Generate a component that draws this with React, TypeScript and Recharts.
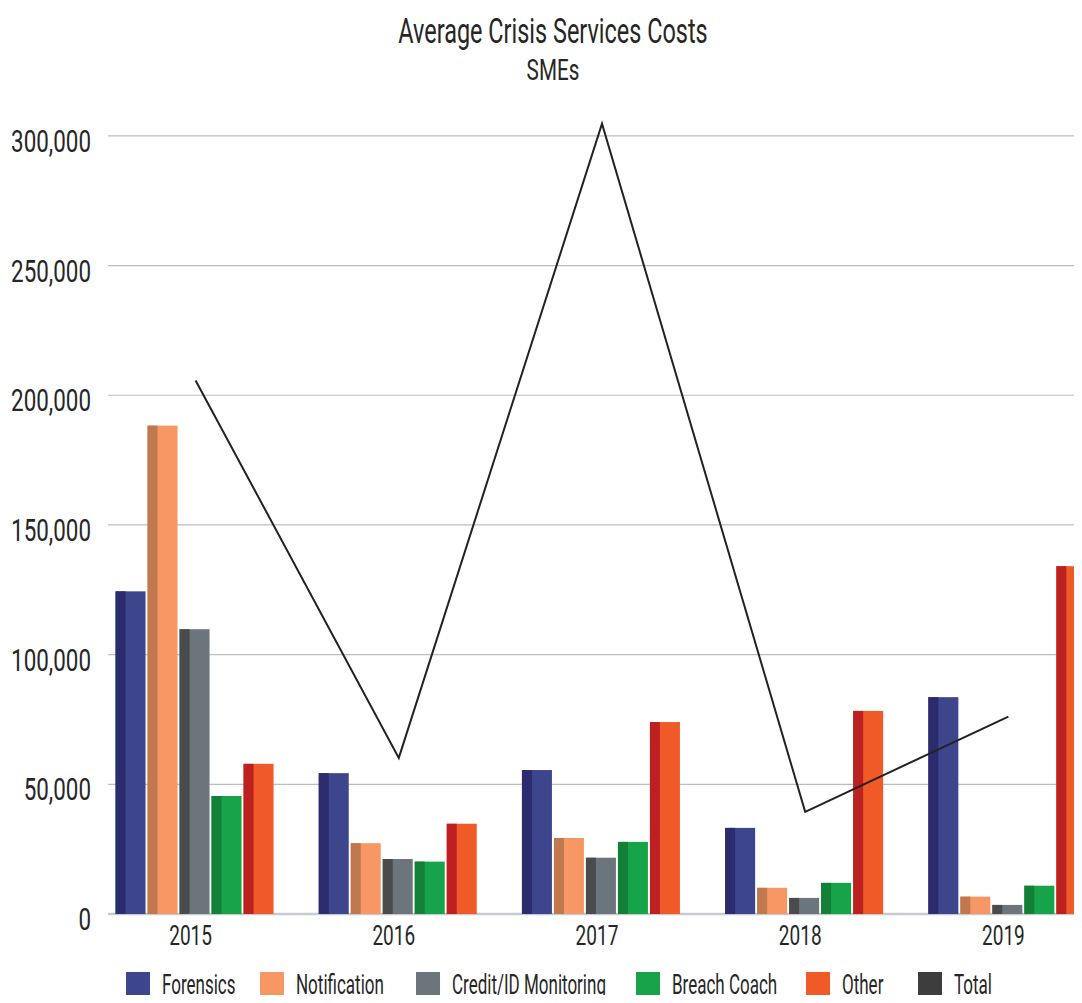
import React from 'react';
import { ComposedChart, Bar, Line, XAxis, YAxis, CartesianGrid } from 'recharts';

const years = ['2015', '2016', '2017', '2018', '2019'];
const forensics = [124400, 54300, 55500, 33200, 83600];
const notification = [188300, 27300, 29300, 10100, 6700];
const creditMonitoring = [109800, 21200, 21700, 6200, 3500];
const breachCoach = [45500, 20200, 27800, 12000, 10900];
const other = [57900, 34800, 74000, 78300, 134100];
const total = [205700, 60200, 304700, 39400, 76100];
const yTicks = [0, 50000, 100000, 150000, 200000, 250000, 300000];

const FONT = "Roboto, 'Noto Sans', sans-serif";
const INK = '#262626';

const SERIES = [
  { key: 'forensics', name: 'Forensics', color: '#3d468c', shade: '#2b2c6e' },
  { key: 'notification', name: 'Notification', color: '#f79864', shade: '#c0784e' },
  { key: 'credit', name: 'Credit/ID Monitoring', color: '#6d757c', shade: '#4a4b4c' },
  { key: 'breach', name: 'Breach Coach', color: '#17a34a', shade: '#138038' },
  { key: 'other', name: 'Other', color: '#f05a28', shade: '#bd2020' },
];

const data = years.map((year, i) => ({
  year,
  forensics: forensics[i],
  notification: notification[i],
  credit: creditMonitoring[i],
  breach: breachCoach[i],
  other: other[i],
  total: total[i],
}));

// narrow text: regular glyphs squeezed horizontally
const Narrow = ({ x, y, size, squeeze = 0.68, anchor = 'start', children }: any) => (
  <text
    transform={`translate(${x},${y}) scale(${squeeze},1)`}
    textAnchor={anchor}
    fontFamily={FONT}
    fontSize={size}
    fill={INK}
  >
    {children}
  </text>
);

// two-tone bar: darker strip on the left third
const shadedBar = (color: string, shade: string) => (props: any) => {
  const { x, y, width, height } = props;
  if (!height || height <= 0) return <g />;
  const strip = Math.round(width / 3);
  return (
    <g>
      <rect x={x} y={y} width={width} height={height} fill={color} />
      <rect x={x} y={y} width={strip} height={height} fill={shade} />
    </g>
  );
};

const GRID_START = 108;

const gridLine = (props: any) => {
  const { y1, y2, x2 } = props;
  if (y1 < 100) return <g key={`g-${y1}`} />;
  const isBase = y1 > 900;
  return (
    <line
      key={`g-${y1}`}
      x1={GRID_START}
      x2={x2}
      y1={y1}
      y2={y2}
      stroke={isBase ? '#c6cbd0' : '#b9bdc3'}
      strokeWidth={isBase ? 2.5 : 1.2}
    />
  );
};

const YTick = (props: any) => {
  const { x, y, payload } = props;
  return (
    <Narrow x={x} y={y + 16} size={32} squeeze={0.7} anchor="end">
      {Number(payload.value).toLocaleString('en-US')}
    </Narrow>
  );
};

const XTick = (props: any) => {
  const { x, y, payload } = props;
  return (
    <Narrow x={x - 5} y={y + 31} size={28} squeeze={0.68} anchor="middle">
      {payload.value}
    </Narrow>
  );
};

const legendItems = [
  ...SERIES.map((s) => ({ name: s.name, color: s.color })),
  { name: 'Total', color: '#3d3d3d' },
];
// left edge of each legend swatch
const legendSlots = [126, 260, 416, 636, 806, 918];

export default function App() {
  return (
    <div style={{ margin: -8, width: 1082, height: 1003, overflow: 'hidden', position: 'relative', background: '#fff' }}>
      <ComposedChart
        width={1110}
        height={1003}
        data={data}
        margin={{ top: 84, right: 0, bottom: 0, left: 0 }}
        barCategoryGap="10.6%"
        barGap={2}
      >
        <CartesianGrid vertical={false} horizontal={gridLine} />
        <XAxis
          dataKey="year"
          axisLine={false}
          tickLine={false}
          tickSize={0}
          tickMargin={0}
          height={89}
          tick={<XTick />}
        />
        <YAxis
          width={94}
          domain={[0, 320000]}
          ticks={yTicks}
          allowDataOverflow
          axisLine={false}
          tickLine={false}
          tickSize={0}
          tickMargin={3}
          tick={<YTick />}
        />
        {SERIES.map((s) => (
          <Bar
            key={s.key}
            dataKey={s.key}
            name={s.name}
            fill={s.color}
            shape={shadedBar(s.color, s.shade)}
            isAnimationActive={false}
          />
        ))}
        <Line
          type="linear"
          dataKey="total"
          name="Total"
          stroke="#222"
          strokeWidth={2}
          dot={false}
          activeDot={false}
          isAnimationActive={false}
        />
      </ComposedChart>
      <svg width={1082} height={1003} style={{ position: 'absolute', left: 0, top: 0, pointerEvents: 'none' }}>
        <Narrow x={553} y={43} size={35} squeeze={0.67} anchor="middle">Average Crisis Services Costs</Narrow>
        <Narrow x={553} y={80} size={30} squeeze={0.69} anchor="middle">SMEs</Narrow>
        {legendItems.map((item, i) => (
          <g key={item.name}>
            <rect x={legendSlots[i]} y={972} width={24} height={31} fill={item.color} />
            <Narrow x={legendSlots[i] + 36} y={994} size={27} squeeze={0.63}>{item.name}</Narrow>
          </g>
        ))}
      </svg>
    </div>
  );
}
